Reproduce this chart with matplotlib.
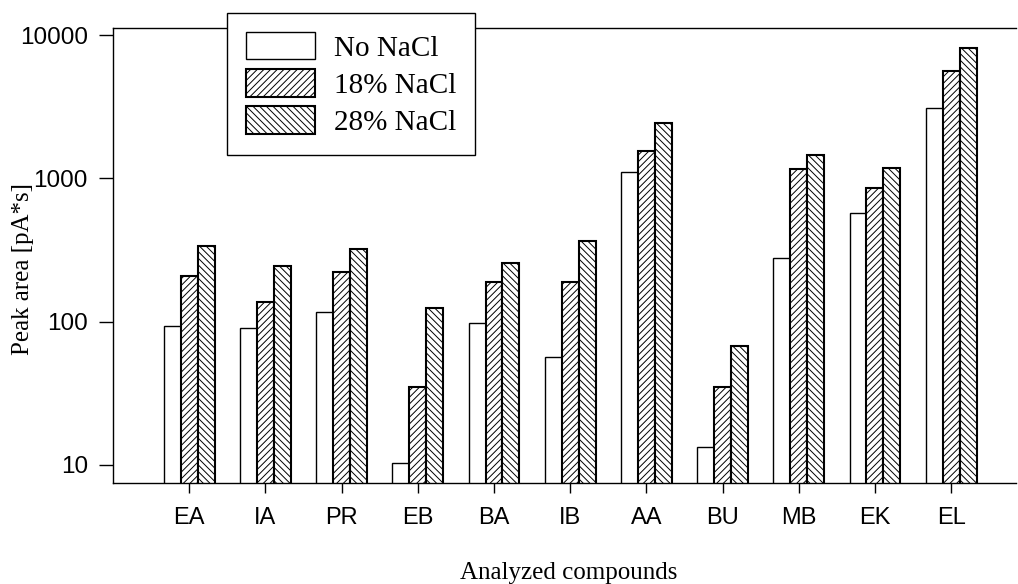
import matplotlib
matplotlib.use("Agg")
import matplotlib.pyplot as plt
import numpy as np
from matplotlib.ticker import NullLocator

# values (peak area, pA*s)
categories = ['EA', 'IA', 'PR', 'EB', 'BA', 'IB', 'AA', 'BU', 'MB', 'EK', 'EL']
series_labels = ['No NaCl', '18% NaCl', '28% NaCl']
no_nacl = [93, 91, 116, 10.3, 98, 57, 1110, 13.4, 280, 571, 3120]
nacl_18 = [208, 137, 224, 35, 188, 189, 1545, 35, 1167, 855, 5630]
nacl_28 = [338, 245, 321, 125, 257, 366, 2426, 68, 1455, 1175, 8150]
ytick_values = [10, 100, 1000, 10000]

plt.rcParams['hatch.linewidth'] = 0.7
plt.rcParams['hatch.color'] = '#505050'

fig = plt.figure(figsize=(10.18, 5.84), dpi=100)
ax = fig.add_axes([0.111, 0.1724, 0.887, 0.7796])

x = np.arange(len(categories))
w = 0.223
styles = [dict(hatch=None, linewidth=1.0),
          dict(hatch='/////', linewidth=1.5),
          dict(hatch='\\\\\\\\\\', linewidth=1.5)]
for k, (vals, lab, st) in enumerate(zip([no_nacl, nacl_18, nacl_28], series_labels, styles)):
    ax.bar(x + (k - 1) * w, np.array(vals) - 1, width=w, bottom=1,
           color='white', edgecolor='black', label=lab, **st)

ax.set_yscale('log')
ax.set_ylim(7.45, 11200)
ax.set_xlim(-1, 10.85)
ax.set_yticks(ytick_values)
ax.set_yticklabels([str(v) for v in ytick_values])
ax.yaxis.set_minor_locator(NullLocator())
ax.set_xticks(x)
ax.set_xticklabels(categories)

ax.spines['right'].set_visible(False)
for s in ['top', 'left', 'bottom']:
    ax.spines[s].set_linewidth(1.0)

ax.tick_params(axis='y', direction='out', length=10, width=1, pad=8,
               labelsize=17.5, labelfontfamily='Liberation Sans')
ax.tick_params(axis='x', direction='out', length=7, width=1, pad=10,
               labelsize=17, labelfontfamily='Liberation Sans')

ax.set_ylabel('Peak area [pA*s]', fontsize=18, family='Liberation Serif')
ax.yaxis.set_label_coords(-0.088, 0.47)
ax.set_xlabel('Analyzed compounds', fontsize=18, family='Liberation Serif')
ax.xaxis.set_label_coords(0.505, -0.172)

leg = fig.legend(loc='upper left', bbox_to_anchor=(0.223, 0.978),
                 prop={'family': 'Liberation Serif', 'size': 21},
                 handlelength=2.36, handleheight=1.08, labelspacing=0.26,
                 handletextpad=0.65, borderpad=0.65, borderaxespad=0,
                 fancybox=False, framealpha=1, edgecolor='black')
leg.get_frame().set_linewidth(1.0)

fig.savefig('out.png', dpi=100)
